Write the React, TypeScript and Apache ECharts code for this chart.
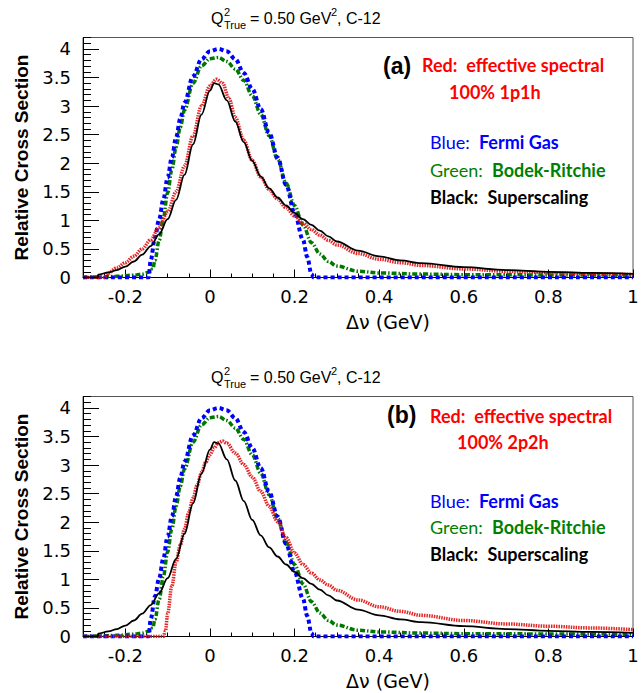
import React, { useEffect, useRef } from "react";
import * as echarts from "echarts";

// ---------- data ----------
const xMajorTicks = [-0.2, 0, 0.2, 0.4, 0.6, 0.8, 1];
const xMinorTicks = [-0.3, -0.25, -0.2, -0.15, -0.1, -0.05, 0, 0.05, 0.1, 0.15, 0.2, 0.25, 0.3, 0.35, 0.4, 0.45, 0.5, 0.55, 0.6, 0.65, 0.7, 0.75, 0.8, 0.85, 0.9, 0.95, 1];
const yMajorTicks = [0, 0.5, 1, 1.5, 2, 2.5, 3, 3.5, 4];
const yMinorTicks = Array.from({ length: 43 }, (_, i) => Math.round(i) / 10);

const fermiGas: number[][] = [
  [-0.3, 0], [-0.145, 0], [-0.14, 0.3], [-0.13, 0.7], [-0.12, 1.02], [-0.11, 1.37], [-0.1, 1.75],
  [-0.09, 2.1], [-0.08, 2.45], [-0.07, 2.78], [-0.06, 3.06], [-0.04, 3.52], [-0.02, 3.82], [0, 3.96],
  [0.02, 4.0], [0.04, 3.96], [0.06, 3.82], [0.08, 3.58], [0.1, 3.3], [0.12, 2.95], [0.14, 2.53],
  [0.16, 2.1], [0.18, 1.62], [0.2, 1.13], [0.22, 0.66], [0.23, 0.36], [0.24, 0.06], [0.245, 0], [1, 0],
];

const bodekRitchie: number[][] = [
  [-0.3, 0], [-0.26, 0.01], [-0.22, 0.02], [-0.18, 0.04], [-0.16, 0.06], [-0.145, 0.09], [-0.135, 0.15],
  [-0.13, 0.3], [-0.12, 0.65], [-0.11, 1.05], [-0.1, 1.48], [-0.09, 1.88], [-0.08, 2.28], [-0.07, 2.63],
  [-0.06, 2.93], [-0.04, 3.4], [-0.02, 3.7], [0, 3.83], [0.02, 3.85], [0.04, 3.78], [0.06, 3.65],
  [0.08, 3.45], [0.1, 3.18], [0.12, 2.86], [0.14, 2.48], [0.16, 2.07], [0.18, 1.65], [0.2, 1.26],
  [0.22, 0.92], [0.24, 0.61], [0.26, 0.41], [0.28, 0.28], [0.3, 0.2], [0.35, 0.11], [0.4, 0.08],
  [0.5, 0.06], [0.6, 0.05], [0.8, 0.045], [1, 0.04],
];

const superscaling: number[][] = [
  [-0.3, 0], [-0.265, 0], [-0.264, 0.05], [-0.24, 0.09], [-0.22, 0.13], [-0.2, 0.19], [-0.18, 0.28],
  [-0.16, 0.4], [-0.14, 0.55], [-0.12, 0.76], [-0.1, 1.02], [-0.08, 1.36], [-0.06, 1.8], [-0.04, 2.33],
  [-0.02, 2.85], [0, 3.27], [0.01, 3.4], [0.02, 3.38], [0.04, 3.1], [0.06, 2.73], [0.08, 2.37],
  [0.1, 2.04], [0.12, 1.77], [0.14, 1.56], [0.16, 1.4], [0.18, 1.26], [0.2, 1.13], [0.22, 1.02],
  [0.24, 0.92], [0.26, 0.82], [0.28, 0.72], [0.3, 0.63], [0.35, 0.47], [0.4, 0.37], [0.45, 0.3],
  [0.5, 0.25], [0.6, 0.18], [0.7, 0.13], [0.8, 0.1], [0.9, 0.08], [1, 0.065],
];

const spectral1p1h: number[][] = [
  [-0.3, 0], [-0.25, 0], [-0.24, 0.08], [-0.22, 0.17], [-0.2, 0.26], [-0.18, 0.37], [-0.16, 0.5],
  [-0.14, 0.66], [-0.12, 0.88], [-0.1, 1.15], [-0.08, 1.5], [-0.06, 1.95], [-0.04, 2.48], [-0.02, 3.0],
  [0, 3.35], [0.015, 3.47], [0.03, 3.4], [0.045, 3.13], [0.06, 2.8], [0.08, 2.4], [0.1, 2.05],
  [0.12, 1.76], [0.14, 1.54], [0.16, 1.37], [0.18, 1.22], [0.2, 1.08], [0.22, 0.95], [0.24, 0.84],
  [0.26, 0.74], [0.28, 0.65], [0.3, 0.57], [0.35, 0.42], [0.4, 0.32], [0.45, 0.26], [0.5, 0.21],
  [0.6, 0.15], [0.7, 0.11], [0.8, 0.085], [0.9, 0.065], [1, 0.05],
];

const spectral2p2h: number[][] = [
  [-0.3, 0], [-0.11, 0], [-0.105, 0.1], [-0.1, 0.4], [-0.09, 0.88], [-0.08, 1.3], [-0.07, 1.6],
  [-0.06, 1.88], [-0.05, 2.17], [-0.04, 2.42], [-0.03, 2.65], [-0.02, 2.87], [-0.01, 3.05], [0, 3.18],
  [0.01, 3.3], [0.02, 3.39], [0.03, 3.42], [0.04, 3.38], [0.06, 3.21], [0.08, 3.01], [0.1, 2.79],
  [0.12, 2.54], [0.14, 2.28], [0.16, 2.01], [0.18, 1.73], [0.2, 1.46], [0.22, 1.26], [0.24, 1.11],
  [0.26, 0.99], [0.28, 0.9], [0.3, 0.81], [0.35, 0.64], [0.4, 0.52], [0.45, 0.44], [0.5, 0.37],
  [0.6, 0.28], [0.7, 0.22], [0.8, 0.18], [0.9, 0.15], [1, 0.12],
];

const panelTags = ["(a)", "(b)"];
const panelModes = ["100% 1p1h", "100% 2p2h"];

// ---------- styling ----------
const AXIS_FONT = "DejaVu Sans";
const TITLE_FONT = "Liberation Sans";
const LEG_FONT = "Lato";
const LEG_SIZE = 18;

const lineStyles = {
  green: { color: "#007700", width: 3.5, type: [5, 2, 1.5, 2] },
  blue: { color: "#0000ff", width: 4, type: [4, 3] },
  red: { color: "#e01010", width: 3.5, type: [1.5, 1], opacity: 0.9 },
  black: { color: "#000000", width: 1.8, type: "solid" },
};

const GRID_LEFT = 83;
const GRID_W = 550;
const GRID_H = 240;
const GRID_TOPS = [37.5, 396.5];

function mkSeries(data: number[][], style: any, gi: number, name: string) {
  return {
    type: "line",
    name,
    xAxisIndex: gi * 2,
    yAxisIndex: gi * 2,
    data,
    showSymbol: false,
    symbol: "none",
    smooth: 0.35,
    smoothMonotone: "x",
    lineStyle: { ...style, cap: "butt" },
    clip: true,
  };
}

function titleElems(cy: number) {
  const base = { fill: "#000", verticalAlign: "middle", textVerticalAlign: "middle" };
  return [
    { type: "text", x: 211, y: cy, style: { ...base, text: "Q", font: `16px "${TITLE_FONT}"` } },
    { type: "text", x: 224, y: cy - 6, style: { ...base, text: "2", font: `11px "${TITLE_FONT}"` } },
    { type: "text", x: 224, y: cy + 7, style: { ...base, text: "True", font: `11px "${TITLE_FONT}"` } },
    { type: "text", x: 250, y: cy, style: { ...base, text: "= 0.50 GeV", font: `16px "${TITLE_FONT}"` } },
    { type: "text", x: 331, y: cy - 6, style: { ...base, text: "2", font: `11px "${TITLE_FONT}"` } },
    { type: "text", x: 337, y: cy, style: { ...base, text: ", C-12", font: `16px "${TITLE_FONT}"` } },
  ];
}

function legendElems(pi: number) {
  const pos =
    pi === 0
      ? { tagX: 383, tagY: 66, redX: 422, redY: 65, modeX: 449, modeY: 92, lx: 430, ys: [142, 170, 197] }
      : { tagX: 387, tagY: 415, redX: 430, redY: 416, modeX: 457, modeY: 442, lx: 430, ys: [501, 527, 554] };
  const v = { verticalAlign: "middle", textVerticalAlign: "middle" };
  const rich = (c: string) => ({
    l: { fill: c, color: c, fontFamily: LEG_FONT, fontSize: LEG_SIZE, fontWeight: "normal" },
    n: { fill: c, color: c, fontFamily: LEG_FONT, fontSize: LEG_SIZE, fontWeight: "bold" },
  });
  return [
    { type: "text", x: pos.tagX, y: pos.tagY, style: { ...v, text: panelTags[pi], fill: "#000", font: `bold 23px "${TITLE_FONT}"` } },
    { type: "text", x: pos.redX, y: pos.redY, style: { ...v, text: "Red:  effective spectral", fill: "#ff0000", font: `bold ${LEG_SIZE}px "${LEG_FONT}"` } },
    { type: "text", x: pos.modeX, y: pos.modeY, style: { ...v, text: panelModes[pi], fill: "#ff0000", font: `bold ${LEG_SIZE}px "${LEG_FONT}"` } },
    { type: "text", x: pos.lx, y: pos.ys[0], style: { ...v, text: "{l|Blue:}  {n|Fermi Gas}", rich: rich("#0000ff"), fill: "#0000ff", font: `${LEG_SIZE}px "${LEG_FONT}"` } },
    { type: "text", x: pos.lx, y: pos.ys[1], style: { ...v, text: "{l|Green:}  {n|Bodek-Ritchie}", rich: rich("#008000"), fill: "#008000", font: `${LEG_SIZE}px "${LEG_FONT}"` } },
    { type: "text", x: pos.lx, y: pos.ys[2], style: { ...v, text: "{n|Black:}  {n|Superscaling}", rich: rich("#000000"), fill: "#000", font: `${LEG_SIZE}px "${LEG_FONT}"` } },
  ];
}

function axesFor(gi: number) {
  const xs = [
    {
      type: "value", gridIndex: gi, min: -0.3, max: 1, position: "bottom",
      axisLine: { show: true, onZero: false, lineStyle: { color: "#000", width: 1 } },
      axisTick: { show: true, inside: true, length: 8, customValues: xMajorTicks, lineStyle: { color: "#000" } },
      axisLabel: { show: true, customValues: xMajorTicks, margin: 10, color: "#000", fontFamily: AXIS_FONT, fontSize: 18, formatter: (val: number) => String(val) },
      splitLine: { show: false },
      name: "Δν (GeV)", nameLocation: "middle", nameGap: 35,
      nameTextStyle: { color: "#000", fontFamily: AXIS_FONT, fontSize: 19, padding: [0, 0, 0, 60] },
    },
    {
      type: "value", gridIndex: gi, min: -0.3, max: 1, position: "bottom",
      axisLine: { show: false, onZero: false },
      axisTick: { show: true, inside: true, length: 4, customValues: xMinorTicks, lineStyle: { color: "#000" } },
      axisLabel: { show: false }, splitLine: { show: false },
    },
  ];
  const ys = [
    {
      type: "value", gridIndex: gi, min: 0, max: 4.2, position: "left",
      axisLine: { show: true, onZero: false, lineStyle: { color: "#000", width: 1 } },
      axisTick: { show: true, inside: true, length: 16, customValues: yMajorTicks, lineStyle: { color: "#000" } },
      axisLabel: { show: true, customValues: yMajorTicks, margin: 12, color: "#000", fontFamily: AXIS_FONT, fontSize: 18, formatter: (val: number) => String(val) },
      splitLine: { show: false },
      name: "Relative Cross Section", nameLocation: "middle", nameGap: 47, nameRotate: 90,
      nameTextStyle: { color: "#000", fontFamily: TITLE_FONT, fontWeight: "bold", fontSize: 19 },
    },
    {
      type: "value", gridIndex: gi, min: 0, max: 4.2, position: "left",
      axisLine: { show: false, onZero: false },
      axisTick: { show: true, inside: true, length: 8, customValues: yMinorTicks, lineStyle: { color: "#000" } },
      axisLabel: { show: false }, splitLine: { show: false },
    },
  ];
  return { xs, ys };
}

export default function App() {
  const ref = useRef<HTMLDivElement>(null);
  useEffect(() => {
    if (!ref.current) return;
    const chart = echarts.init(ref.current, undefined, { renderer: "svg" });
    const a0 = axesFor(0);
    const a1 = axesFor(1);
    const series: any[] = [];
    [0, 1].forEach((gi) => {
      series.push(mkSeries(bodekRitchie, lineStyles.green, gi, "Bodek-Ritchie"));
      series.push(mkSeries(fermiGas, lineStyles.blue, gi, "Fermi Gas"));
      series.push(mkSeries(gi === 0 ? spectral1p1h : spectral2p2h, lineStyles.red, gi, "effective spectral"));
      series.push(mkSeries(superscaling, lineStyles.black, gi, "Superscaling"));
    });
    chart.setOption({
      animation: false,
      backgroundColor: "#fff",
      grid: GRID_TOPS.map((t) => ({
        left: GRID_LEFT, top: t, width: GRID_W, height: GRID_H,
        show: true, borderColor: "#555", borderWidth: 1, backgroundColor: "transparent",
      })),
      xAxis: [...a0.xs, ...a1.xs],
      yAxis: [...a0.ys, ...a1.ys],
      series,
      graphic: [...titleElems(18), ...titleElems(377), ...legendElems(0), ...legendElems(1)],
    });
    return () => chart.dispose();
  }, []);
  return (
    <div
      ref={ref}
      style={{ position: "fixed", left: 0, top: 0, width: 642, height: 693, background: "#fff" }}
    />
  );
}
